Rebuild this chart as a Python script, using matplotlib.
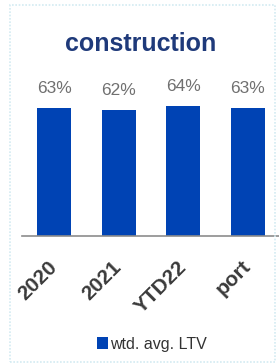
import matplotlib
matplotlib.use("Agg")
import matplotlib.pyplot as plt
from matplotlib.patches import Rectangle

categories = ["2020", "2021", "YTD22", "port"]
ltv = [63, 62, 64, 63]
series_name = "wtd. avg. LTV"

W, H = 279, 363
plt.rcParams['font.family'] = ['Liberation Sans', 'DejaVu Sans']

fig = plt.figure(figsize=(W / 100, H / 100), dpi=100)
fig.patch.set_facecolor("white")

# dotted frame round the whole panel
fig.patches.append(Rectangle((10 / W, 1 - 362 / H), 265 / W, 357 / H,
                             transform=fig.transFigure, fill=False,
                             edgecolor="#d3ebf2", linewidth=1.2,
                             linestyle=(0, (1, 1))))

ax = fig.add_axes([22 / W, 127 / H, 258 / W, 162.4 / H])
bars = ax.bar(range(len(categories)), ltv, width=0.53, color="#0043b4",
              label=series_name)
ax.set_xlim(-0.5, len(categories) - 0.5)
ax.set_ylim(0, 80)

for b, v in zip(bars, ltv):
    ax.annotate(f"{v}%", (b.get_x() + b.get_width() / 2, v),
                xytext=(0, 9), textcoords="offset points",
                ha="center", va="bottom", fontsize=12.5, color="#707070")

for s in ["top", "right", "left"]:
    ax.spines[s].set_visible(False)
ax.spines["bottom"].set_color("#8c8c8c")
ax.spines["bottom"].set_linewidth(1.2)
ax.set_yticks([])
ax.set_xticks(range(len(categories)))
ax.set_xticklabels(categories, rotation=45, ha="right", va="center",
                   rotation_mode="anchor", fontsize=15, fontweight="bold",
                   color="#3a3a3a")
ax.tick_params(axis="x", length=0, pad=20)

fig.text(141 / W, 1 - 44 / H, "construction", ha="center", va="center",
         fontsize=18, fontweight="bold", color="#1f3a7a")

ax.legend(loc="center", bbox_to_anchor=(152 / W, 1 - 344 / H),
          bbox_transform=fig.transFigure, frameon=False, fontsize=11.5,
          handlelength=0.7, handleheight=0.7, handletextpad=0.1,
          labelcolor="#333333")

fig.savefig("out.png", dpi=100)
